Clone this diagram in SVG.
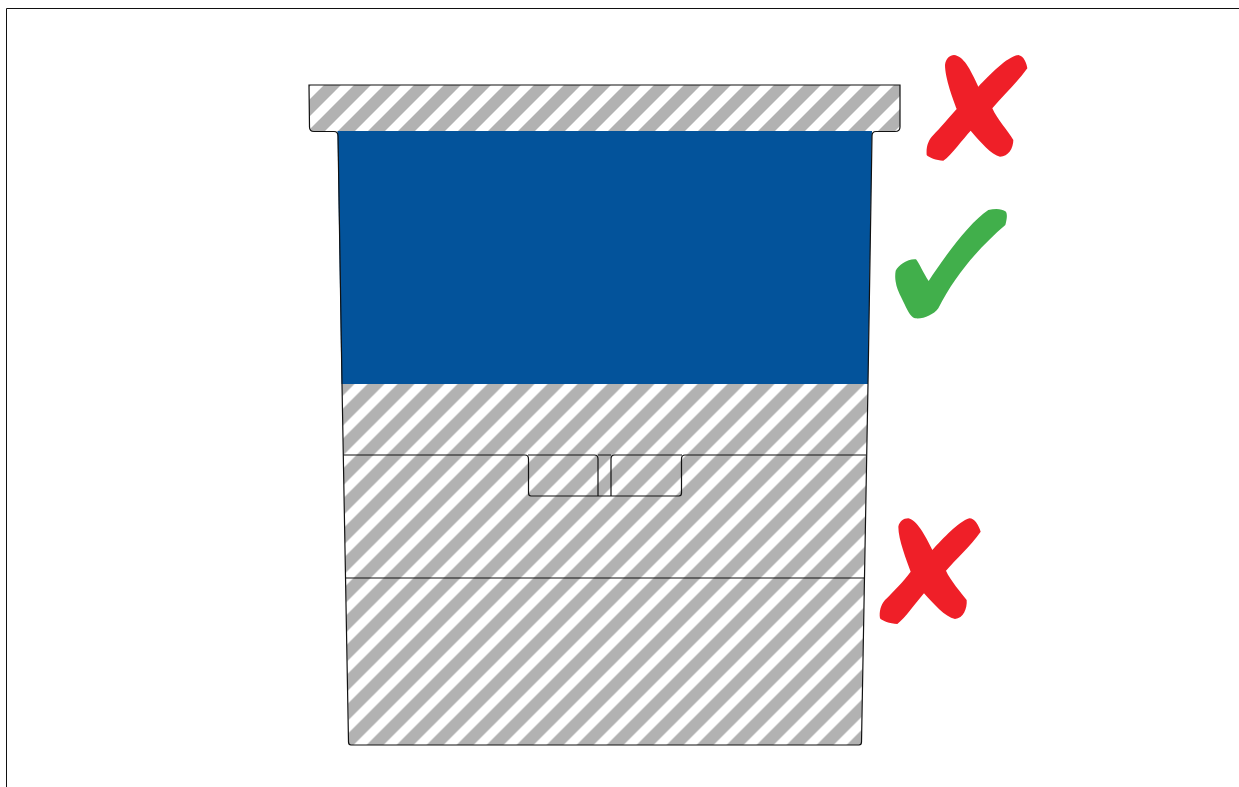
<svg xmlns="http://www.w3.org/2000/svg" width="1239" height="787" viewBox="0 0 1239 787">
<style>
.o{fill:none;stroke:#111;stroke-width:1.2}
.r{fill:#ef1f28}
.g{fill:#41af4b}
</style>
<defs>
<pattern id="hatch" patternUnits="userSpaceOnUse" width="30" height="30">
<rect width="30" height="30" fill="#fff"/>
<path d="M0,0H6L0,6Z M19,0H30V6L6,30H0V19Z M30,19V30H19Z" fill="#b2b2b2"/>
</pattern>
<pattern id="hatch2" href="#hatch" patternTransform="translate(12.5,0)"/>
</defs>
<rect width="1239" height="787" fill="#fff"/>
<path id="frame" d="M6.500,787V8.500H1239" fill="none" stroke="#111" stroke-width="1"/>
<g id="cup">
<path fill="url(#hatch)" d="M309,85H900V127Q900,131.500 895,131.500H314Q309.500,131.500 309.500,127Z"/>
<path fill="url(#hatch2)" d="M342,384H868L861,745H349Z"/>
<path fill="#03539b" d="M337.500,131H872L868,384H341.500Z"/>
<path class="o" d="M309,85H900V127Q900,131.500 895,131.500H876Q872,131.500 872,136L868,384L861.500,742Q861.500,745 859,745H351Q348.500,745 348.500,742L342,384L338,136Q338,131.500 334,131.500H314Q309.500,131.500 309.500,127Z"/>
<path class="o" d="M343.500,455H525Q528.500,455 528.500,459V493Q528.500,496 531,496H679Q681.500,496 681.500,493V459Q681.500,455 685,455H866M346,578H864M528,455H594.500Q598,455 598,459V496M611,496V459Q611,455 614.500,455H682M598,455H611"/>
</g>
<g id="mark-top-x"><path class="r" transform="translate(800,40) scale(.33333)" d="M435,75C437,55 450,45 462,45C490,48 510,85 535,140C570,105 620,50 655,45C672,48 680,70 682,85C650,130 610,165 577,205C590,235 625,275 640,300C640,325 625,350 600,350C575,345 540,305 512,272C490,295 455,345 430,362C410,362 385,352 380,345C378,320 385,300 400,285C420,265 445,235 470,207C460,180 435,115 435,75Z"/></g>
<g id="mark-check"><path class="g" transform="translate(880,200) scale(.33333)" d="M47,212C55,195 85,175 108,178C118,190 130,220 146,243C190,175 270,65 325,30C345,25 365,25 378,35C383,45 380,60 376,75C300,140 225,225 175,325C160,345 130,358 105,355C90,350 80,325 70,305C60,285 50,265 48,250C45,235 45,225 47,212Z"/></g>
<g id="mark-bottom-x"><path class="r" transform="translate(870,510) scale(.33333)" d="M85,50C88,35 100,25 115,25C140,30 165,75 187,120C220,85 265,35 298,25C315,25 325,45 332,65C300,110 260,145 228,182C240,210 275,250 290,270C292,295 280,325 255,327C225,322 190,280 162,250C140,275 105,325 82,342C60,342 35,332 30,325C27,305 32,285 45,270C70,245 100,215 122,185C110,150 85,90 85,50Z"/></g>
</svg>
